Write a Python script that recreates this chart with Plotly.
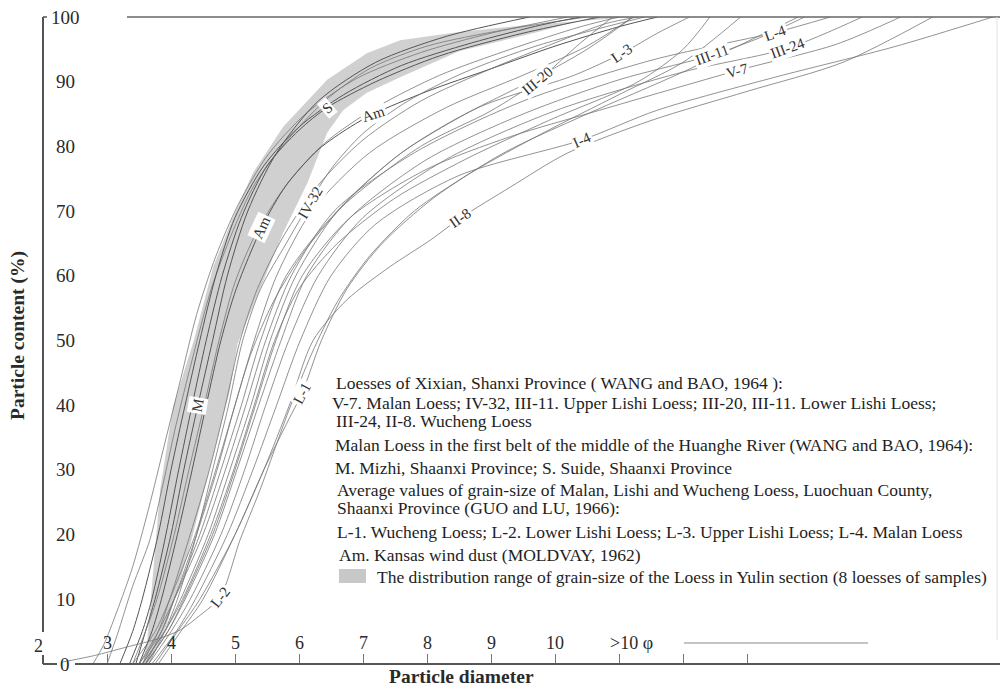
import plotly.graph_objects as go

# ---------------- axis / tick data ----------------
X_RANGE = [2.0, 16.953]
Y_RANGE = [0, 100]
X_TICK_VALS = [3, 4, 5, 6, 7, 8, 9, 10, 11, 12, 13]
X_LABEL_VALS = [2, 3, 4, 5, 6, 7, 8, 9, 10]
X_LABEL_TEXT = ["2", "3", "4", "5", "6", "7", "8", "9", "10"]
X_OVER_LABEL = ">10 φ"
Y_LABEL_VALS = [0, 10, 20, 30, 40, 50, 60, 70, 80, 90, 100]
Y_LABEL_TEXT = [str(v) for v in Y_LABEL_VALS]

# ---------------- Yulin band (range of 8 samples) ----------------
BAND_LEFT_PHI = [3.56, 3.63, 3.72, 3.83, 4.03, 4.36, 4.66, 4.97, 5.28, 5.75, 6.44, 7.06, 7.58, 8.5, 9.5, 10.36, 11.2]
BAND_LEFT_PCT = [0, 3.7, 14.1, 26.9, 39.7, 50.1, 61.4, 69.1, 75.9, 83.0, 90.3, 94.4, 96.4, 97.7, 98.7, 99.3, 100]
BAND_RIGHT_PHI = [3.64, 3.83, 3.94, 4.25, 4.45, 4.72, 4.92, 5.04, 5.35, 5.75, 6.13, 6.44, 6.69, 7.06, 7.58, 8.5, 9.73, 10.6]
BAND_RIGHT_PCT = [0, 3.7, 6.3, 16.5, 24.3, 34.6, 42.3, 49.5, 57, 66.6, 74.3, 82.1, 85.6, 88.3, 90.7, 94.7, 97.7, 100]

# ---------------- cumulative curves (phi, %) ----------------
A0_PHI = [2.78, 2.95, 3.15, 3.4, 3.65, 3.9, 4.15, 4.4, 4.7, 5.05, 5.5, 6.1, 6.9, 7.9, 9.0, 10.2]
A0_PCT = [0, 3, 8, 15, 24, 34, 44, 54, 63, 71, 78.5, 85, 90.5, 94.5, 97.5, 100]
A1_PHI = [3.0, 3.16, 3.4, 3.67, 3.88, 4.08, 4.33, 4.63, 4.97, 5.3, 5.78, 6.4, 7.1, 8.0, 9.2, 10.5]
A1_PCT = [0, 4.5, 12, 19.2, 28, 37, 47, 58, 67, 74, 80.5, 87, 92, 95.5, 98, 100]
A4_PHI = [3.2, 3.4, 3.55, 3.8, 4.0, 4.22, 4.45, 4.7, 5.0, 5.45, 6.0, 6.7, 7.6, 8.7, 9.8, 10.4]
A4_PCT = [0, 5, 10, 20, 30, 40, 50, 60, 69, 77, 83, 88, 92.5, 96, 98.8, 100]
M_PHI = [3.45, 3.6, 3.75, 4.0, 4.2, 4.42, 4.65, 4.88, 5.2, 5.65, 6.3, 7.2, 8.3, 9.6]
M_PCT = [0, 5, 10, 20, 30, 40, 50, 60, 70, 79, 87, 93, 97, 100]
S_PHI = [3.35, 3.55, 3.7, 3.92, 4.12, 4.33, 4.55, 4.8, 5.1, 5.5, 6.0, 6.44, 7.2, 8.2, 9.5, 10.7]
S_PCT = [0, 5, 10, 20, 30, 40, 50, 60, 69, 77, 82.5, 86, 90, 94, 97.5, 100]
A5_PHI = [3.4, 3.6, 3.78, 4.05, 4.28, 4.52, 4.75, 5.0, 5.35, 5.8, 6.4, 7.2, 8.2, 9.3, 10.4, 11.0]
A5_PCT = [0, 5, 10, 20, 30, 40, 50, 59, 67, 74, 80.5, 86, 91, 95, 98.5, 100]
AM_PHI = [3.5, 3.7, 3.85, 4.1, 4.33, 4.55, 4.78, 5.02, 5.42, 5.8, 6.3, 6.8, 7.16, 8.0, 9.0, 10.0, 11.0, 11.6]
AM_PCT = [0, 5, 10, 20, 30, 40, 50, 58, 67.5, 74, 79.5, 83, 85, 88.5, 92, 95.5, 98.5, 100]
B1_PHI = [3.55, 3.8, 3.98, 4.3, 4.6, 4.85, 5.08, 5.35, 5.75, 6.3, 7.0, 7.9, 9.0, 10.0, 10.8, 11.3]
B1_PCT = [0, 5, 10, 20, 30, 40, 50, 58, 66, 74, 81, 87, 92, 96, 99, 100]
IV32_PHI = [3.65, 3.9, 4.1, 4.4, 4.65, 4.9, 5.12, 5.4, 5.8, 6.17, 6.5, 7.0, 7.7, 8.6, 9.7, 10.8, 11.4]
IV32_PCT = [0, 5, 10, 20, 30, 40, 50, 58, 65, 71.3, 76.5, 82, 87, 91.5, 95.5, 98.5, 100]
B2_PHI = [3.6, 3.85, 4.05, 4.4, 4.72, 5.0, 5.25, 5.6, 6.1, 6.8, 7.6, 8.6, 9.6, 10.5, 11.22]
B2_PCT = [0, 5, 10, 20, 30, 40, 48, 56, 64, 72, 79, 85, 90, 95, 100]

U1_PHI = [3.4, 3.75, 3.98, 4.38, 4.7, 5.0, 5.3, 5.65, 6.2, 7.1, 8.3, 9.5, 10.5, 11.22]
U1_PCT = [0, 5, 10, 20, 30, 40, 50, 60, 70, 79, 86, 91, 95.5, 100]
III20_PHI = [3.5, 3.85, 4.05, 4.45, 4.78, 5.1, 5.4, 5.8, 6.6, 7.9, 9.0, 9.72, 10.4, 10.9]
III20_PCT = [0, 5, 10, 20, 30, 40, 50, 60, 70, 80, 85.5, 90.1, 96, 100]
L3_PHI = [3.55, 3.9, 4.15, 4.58, 4.92, 5.25, 5.55, 5.95, 6.6, 7.6, 8.8, 10.3, 11.05, 11.6, 12.1]
L3_PCT = [0, 5, 10, 20, 30, 40, 50, 60, 70, 79, 86, 91, 94.4, 97.5, 100]
L4_PHI = [3.5, 3.8, 4.05, 4.5, 4.85, 5.17, 5.48, 5.88, 6.55, 7.8, 9.5, 11.5, 12.6, 13.44, 14.3]
L4_PCT = [0, 5, 10, 20, 30, 40, 50, 60, 70, 79, 87, 93.3, 95.8, 97.6, 100]
U2_PHI = [3.55, 3.9, 4.18, 4.62, 4.98, 5.3, 5.62, 6.0, 6.6, 7.5, 8.6, 9.9, 11.3, 12.0, 12.42]
U2_PCT = [0, 5, 10, 20, 30, 40, 50, 58, 65, 72, 78, 84, 90, 95, 100]
III11_PHI = [3.6, 3.95, 4.22, 4.68, 5.03, 5.37, 5.72, 6.12, 6.8, 8.0, 9.5, 11.0, 12.45, 13.2, 13.9]
III11_PCT = [0, 5, 10, 20, 30, 40, 50, 60, 69, 78, 85, 90.3, 94.1, 96.8, 100]
III24_PHI = [3.65, 4.0, 4.3, 4.78, 5.15, 5.48, 5.84, 6.3, 7.0, 8.3, 10.0, 12.0, 13.64, 14.8]
III24_PCT = [0, 5, 10, 20, 30, 40, 50, 60, 69, 78, 85.5, 91.5, 95.2, 100]
V7_PHI = [3.6, 3.95, 4.2, 4.65, 5.0, 5.32, 5.64, 6.05, 6.8, 8.0, 9.3, 10.7, 12.84, 14.4, 15.4]
V7_PCT = [0, 5, 10, 20, 30, 40, 50, 60, 69, 76.5, 81.5, 85.6, 91.7, 95.8, 100]
I4_PHI = [3.7, 4.08, 4.38, 4.88, 5.28, 5.65, 6.02, 6.5, 7.2, 8.5, 10.42, 11.6, 13.44, 15.3, 16.84]
I4_PCT = [0, 5, 10, 20, 30, 40, 50, 60, 68, 75.5, 81, 85.6, 90.7, 95.4, 100]
II8_PHI = [3.8, 4.15, 4.5, 5.0, 5.45, 5.85, 6.22, 6.75, 7.42, 8.05, 8.52, 9.3, 10.2, 11.5, 13.0, 14.5, 15.9]
II8_PCT = [0, 5, 10, 20, 30, 40, 50, 56.3, 61.4, 65.5, 68.9, 73.7, 79, 84, 88.5, 93, 100]
L1_PHI = [3.75, 4.1, 4.45, 5.0, 5.45, 5.85, 6.05, 6.35, 6.75, 7.3, 8.1, 9.2, 10.5, 12.0, 13.8]
L1_PCT = [0, 5, 10, 20, 30, 38, 41.9, 50, 58, 65, 72, 79, 85, 91.5, 100]
L2_PHI = [2.3, 2.8, 3.3, 3.83, 4.15, 4.45, 4.77, 5.08, 5.39, 5.86, 6.2, 6.6, 7.1, 7.8, 8.7, 9.8, 11.0, 12.0, 12.9]
L2_PCT = [0.3, 1.3, 2.6, 4, 5.3, 7.5, 10.4, 19.2, 26.9, 39.7, 48, 56, 63, 70, 76, 82, 88, 93, 100]

CURVES = [
    (A0_PHI, A0_PCT, False), (A1_PHI, A1_PCT, False), (A4_PHI, A4_PCT, True),
    (M_PHI, M_PCT, True), (S_PHI, S_PCT, True), (A5_PHI, A5_PCT, False),
    (AM_PHI, AM_PCT, True), (B1_PHI, B1_PCT, False), (IV32_PHI, IV32_PCT, False),
    (B2_PHI, B2_PCT, False), (U1_PHI, U1_PCT, False), (III20_PHI, III20_PCT, False),
    (L3_PHI, L3_PCT, False), (L4_PHI, L4_PCT, False), (U2_PHI, U2_PCT, False),
    (III11_PHI, III11_PCT, False), (III24_PHI, III24_PCT, False), (V7_PHI, V7_PCT, False),
    (I4_PHI, I4_PCT, False), (II8_PHI, II8_PCT, False), (L1_PHI, L1_PCT, False),
    (L2_PHI, L2_PCT, False),
]

# ---------------- curve labels ----------------
LABEL_TEXT = ["S", "Am", "Am", "IV-32", "M", "L-1", "L-2", "II-8", "I-4", "III-20",
              "L-3", "III-11", "L-4", "III-24", "V-7"]
LABEL_PHI = [6.44, 7.16, 5.42, 6.17, 4.42, 6.05, 4.77, 8.52, 10.42, 9.72,
             11.05, 12.45, 13.44, 13.64, 12.84]
LABEL_PCT = [86, 85, 67.5, 71.3, 40, 41.9, 10.4, 68.9, 81, 90.1,
             94.4, 94.1, 97.6, 95.2, 91.7]
LABEL_ANGLE = [-40, -18, -65, -60, -80, -62, -52, -35, -24, -40,
               -34, -20, -20, -20, -15]

# ---------------- explanation text ----------------
NOTE_LINES = [
    "Loesses of Xixian, Shanxi Province ( WANG and BAO, 1964 ):",
    "V-7. Malan Loess; IV-32, III-11. Upper Lishi Loess; III-20, III-11. Lower Lishi Loess;",
    "III-24, II-8. Wucheng Loess",
    "Malan Loess in the first belt of the middle of the Huanghe River (WANG and BAO, 1964):",
    "M. Mizhi, Shaanxi Province; S. Suide, Shaanxi Province",
    "Average values of grain-size of Malan, Lishi and Wucheng Loess, Luochuan County,",
    "Shaanxi Province (GUO and LU, 1966):",
    "L-1. Wucheng Loess; L-2. Lower Lishi Loess; L-3. Upper Lishi Loess; L-4. Malan Loess",
    "Am. Kansas wind dust (MOLDVAY, 1962)",
    "The distribution range of grain-size of the Loess in Yulin section (8 loesses of samples)",
]
NOTE_X_PX = [334, 330, 334, 333, 333, 335, 335, 335, 337, 375]
NOTE_Y_PX = [383, 403, 421, 445, 468, 490, 508, 532, 555, 577]

# ---------------- figure ----------------
W, H = 1000, 687
ML, MR, MT, MB = 43, 0, 17, 23
PW, PH = W - ML - MR, H - MT - MB


def px2x(px):
    return (px - ML) / PW


def py2y(py):
    return (H - MB - py) / PH


SERIF = "Liberation Serif, Times New Roman, serif"
TXT = "#2a2a2a"
fig = go.Figure()

band_x = BAND_LEFT_PHI + BAND_RIGHT_PHI[::-1]
band_y = BAND_LEFT_PCT + BAND_RIGHT_PCT[::-1]
fig.add_trace(go.Scatter(x=band_x, y=band_y, mode="lines", fill="toself",
                         fillcolor="#d0d0d0", line=dict(width=0, color="#d0d0d0"),
                         hoverinfo="skip", showlegend=False))

for phi, pct, dark in CURVES:
    fig.add_trace(go.Scatter(
        x=phi, y=pct, mode="lines",
        line=dict(color="#555555" if dark else "#767676", width=1.0 if dark else 0.8,
                  shape="spline", smoothing=0.8),
        hoverinfo="skip", showlegend=False))

ann = []
for t, x, y, a in zip(LABEL_TEXT, LABEL_PHI, LABEL_PCT, LABEL_ANGLE):
    ann.append(dict(x=x, y=y, xref="x", yref="y", text=t, showarrow=False,
                    xanchor="center", yanchor="middle",
                    textangle=a, bgcolor="white", borderpad=1,
                    font=dict(family=SERIF, size=15, color="#333")))

for v, t in zip(X_LABEL_VALS, X_LABEL_TEXT):
    ann.append(dict(x=v, y=3.25, xref="x", yref="y", text=t, showarrow=False,
                    xanchor="center", yanchor="middle",
                    xshift=-5 if v == 2 else 0, yshift=-3 if v == 2 else 0,
                    font=dict(family=SERIF, size=18, color=TXT)))
ann.append(dict(x=10.83, y=3.25, xref="x", yref="y", text=X_OVER_LABEL, showarrow=False,
                xanchor="left", yanchor="middle", font=dict(family=SERIF, size=18, color=TXT)))

for v, t in zip(Y_LABEL_VALS, Y_LABEL_TEXT):
    ann.append(dict(x=px2x(65), y=v, xref="paper", yref="y", text=t, showarrow=False,
                    xanchor="center", yanchor="middle",
                    font=dict(family=SERIF, size=19, color=TXT)))

for t, xp, yp in zip(NOTE_LINES, NOTE_X_PX, NOTE_Y_PX):
    ann.append(dict(x=px2x(xp), y=py2y(yp), xref="paper", yref="paper", text=t,
                    showarrow=False, xanchor="left", yanchor="middle",
                    font=dict(family=SERIF, size=17.5, color="#1e1e1e")))

ann.append(dict(x=px2x(18), y=py2y(336), xref="paper", yref="paper",
                text="<b>Particle content (%)</b>", showarrow=False, textangle=-90,
                xanchor="center", yanchor="middle",
                font=dict(family=SERIF, size=19.5, color=TXT)))
ann.append(dict(x=px2x(461), y=py2y(677), xref="paper", yref="paper",
                text="<b>Particle diameter</b>", showarrow=False,
                xanchor="center", yanchor="middle",
                font=dict(family=SERIF, size=19.5, color=TXT)))

AX = "#555"
shapes = [
    dict(type="line", xref="paper", yref="paper", x0=0, x1=0, y0=py2y(632), y1=1,
         line=dict(color=AX, width=2)),
    dict(type="line", xref="paper", yref="paper", x0=0, x1=px2x(47), y0=1, y1=1,
         line=dict(color=AX, width=1.5)),
    dict(type="line", xref="paper", yref="paper", x0=0, x1=0, y0=0, y1=py2y(655),
         line=dict(color=AX, width=2)),
    dict(type="line", xref="paper", yref="paper", x0=0, x1=px2x(57), y0=0, y1=0,
         line=dict(color=AX, width=2)),
    dict(type="line", xref="paper", yref="paper", x0=px2x(75), x1=1, y0=0, y1=0,
         line=dict(color=AX, width=2)),
    dict(type="line", xref="paper", yref="paper", x0=px2x(127), x1=1, y0=1, y1=1,
         line=dict(color="#666", width=1.5)),
    dict(type="line", xref="paper", yref="paper", x0=px2x(684), x1=px2x(868),
         y0=py2y(643), y1=py2y(643), line=dict(color="#888", width=1)),
    dict(type="line", xref="paper", yref="paper", x0=px2x(997), x1=px2x(997),
         y0=py2y(640), y1=1, line=dict(color="#e2e2e2", width=1)),
    dict(type="rect", xref="paper", yref="paper", x0=px2x(339), x1=px2x(366),
         y0=py2y(583), y1=py2y(569), fillcolor="#c8c8c8", line=dict(width=0)),
]

fig.update_layout(
    width=W, height=H, margin=dict(l=ML, r=MR, t=MT, b=MB),
    paper_bgcolor="white", plot_bgcolor="white", showlegend=False,
    annotations=ann, shapes=shapes,
    xaxis=dict(range=X_RANGE, tickvals=X_TICK_VALS, ticks="inside", ticklen=10,
               tickwidth=1, tickcolor="#777", showticklabels=False, showgrid=False,
               zeroline=False, showline=False, fixedrange=True),
    yaxis=dict(range=Y_RANGE, showticklabels=False, ticks="", showgrid=False,
               zeroline=False, showline=False, fixedrange=True),
)

fig.write_html("out.html", config={"displayModeBar": False, "staticPlot": True},
               post_script="document.body.style.margin='0';document.body.style.padding='0';"
                           "document.body.style.overflow='hidden';")
